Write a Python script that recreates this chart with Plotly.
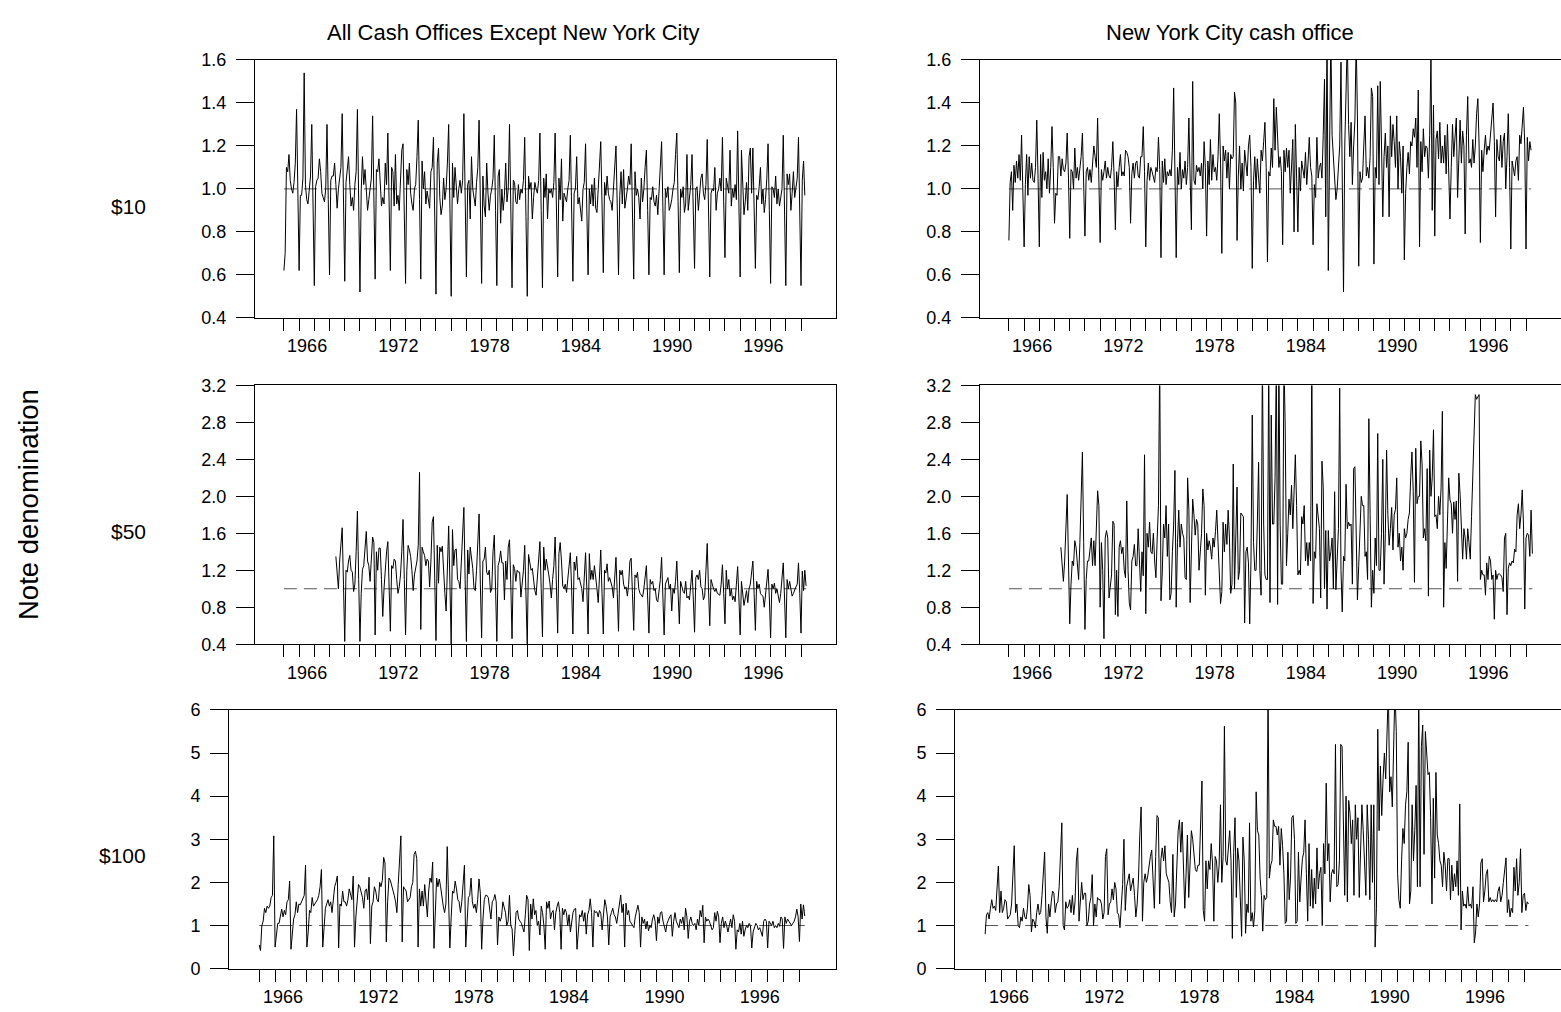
import plotly.graph_objects as go

# ---------------- data (monthly ratios) ----------------
# $10 notes, all cash offices except New York City, Jan 1965 - Apr 1999
ten_other_start = 1965.0
ten_other = [
    0.62, 0.70, 1.10, 1.08, 1.16, 1.04, 1.00, 0.98, 1.03, 1.12, 1.37, 0.99,
    0.62, 0.97, 0.97, 1.05, 1.54, 1.02, 0.95, 0.93, 1.00, 1.06, 1.30, 0.92,
    0.55, 1.01, 1.04, 1.05, 1.14, 1.08, 0.98, 0.96, 0.94, 1.00, 1.30, 0.95,
    0.60, 1.04, 1.06, 1.06, 1.12, 1.02, 0.91, 1.00, 1.05, 1.10, 1.35, 0.96,
    0.57, 1.03, 1.08, 1.15, 1.02, 0.92, 0.96, 0.90, 1.02, 1.08, 1.37, 0.94,
    0.52, 0.99, 1.15, 1.02, 1.09, 1.00, 0.90, 0.95, 1.00, 1.05, 1.34, 0.96,
    0.58, 1.09, 1.08, 1.14, 1.00, 0.92, 0.96, 0.93, 1.12, 1.02, 1.26, 0.90,
    0.62, 1.10, 1.08, 0.92, 1.16, 0.93, 0.97, 0.90, 1.08, 1.18, 1.21, 0.92,
    0.56, 1.09, 1.02, 1.12, 0.98, 0.93, 0.90, 1.00, 1.02, 1.15, 1.32, 0.95,
    0.58, 1.13, 1.00, 1.08, 0.93, 0.99, 0.95, 0.91, 1.08, 1.10, 1.24, 0.90,
    0.51, 1.12, 1.19, 0.96, 0.88, 0.92, 1.05, 0.95, 1.00, 1.12, 1.30, 0.91,
    0.50, 1.12, 0.96, 1.10, 1.02, 0.93, 1.00, 1.04, 0.98, 1.04, 1.35, 0.96,
    0.59, 1.02, 1.04, 0.86, 1.15, 1.00, 0.96, 0.92, 1.03, 1.10, 1.32, 0.94,
    0.56, 1.06, 0.92, 0.87, 1.12, 0.98, 0.90, 0.97, 1.00, 1.05, 1.25, 0.90,
    0.55, 1.06, 1.09, 0.84, 1.00, 0.90, 0.97, 1.12, 0.94, 1.00, 1.30, 0.92,
    0.54, 1.04, 1.03, 0.94, 0.93, 1.02, 0.95, 1.00, 0.98, 1.04, 1.24, 0.87,
    0.50, 1.06, 1.00, 1.03, 0.86, 0.96, 1.03, 1.00, 0.98, 1.04, 1.26, 0.90,
    0.54, 1.05, 0.96, 1.07, 0.86, 1.00, 0.98, 1.00, 0.96, 1.03, 1.26, 0.92,
    0.59, 1.05, 0.95, 1.14, 0.85, 0.98, 0.96, 0.94, 1.00, 1.04, 1.25, 0.91,
    0.57, 0.98, 1.00, 1.15, 0.93, 0.96, 0.91, 0.85, 1.00, 1.03, 1.21, 0.93,
    0.60, 1.00, 0.93, 1.02, 0.92, 1.05, 0.91, 0.89, 1.00, 1.05, 1.22, 0.93,
    0.61, 1.03, 0.97, 1.06, 0.98, 0.95, 0.94, 0.90, 1.02, 1.10, 1.20, 0.92,
    0.60, 0.97, 1.08, 0.93, 1.09, 0.91, 0.95, 1.00, 1.06, 1.02, 1.21, 0.91,
    0.58, 1.08, 0.97, 1.00, 0.96, 0.86, 1.05, 0.94, 1.00, 1.10, 1.18, 0.90,
    0.60, 0.96, 0.95, 1.01, 0.94, 0.92, 0.97, 0.88, 1.02, 1.12, 1.22, 0.92,
    0.60, 1.00, 0.96, 1.01, 0.90, 0.92, 0.95, 1.00, 1.03, 1.16, 1.26, 0.94,
    0.61, 1.00, 0.96, 1.01, 0.89, 0.93, 1.16, 0.90, 0.95, 1.02, 1.16, 0.90,
    0.63, 1.00, 1.01, 0.90, 0.96, 1.05, 1.07, 0.98, 0.95, 1.02, 1.23, 0.93,
    0.59, 0.98, 1.00, 0.99, 1.10, 0.90, 0.98, 1.00, 1.05, 0.99, 1.24, 0.94,
    0.68, 1.05, 1.00, 0.98, 1.18, 0.92, 1.00, 0.96, 1.02, 0.95, 1.27, 0.93,
    0.59, 1.18, 0.98, 0.88, 0.94, 1.03, 0.90, 1.15, 1.19, 0.98, 1.19, 0.92,
    0.63, 0.97, 0.95, 1.01, 1.10, 0.93, 1.00, 0.89, 0.95, 1.05, 1.21, 0.90,
    0.56, 1.01, 1.00, 0.96, 1.06, 0.93, 1.00, 0.92, 0.96, 1.00, 1.25, 0.91,
    0.55, 1.07, 1.02, 1.07, 0.90, 0.98, 1.08, 0.96, 1.00, 1.05, 1.24, 0.92,
    0.55, 1.04, 1.13, 0.97,
]

# $10 notes, New York City cash office
ten_nyc_start = 1965.0
ten_nyc = [
    0.76, 1.03, 1.08, 0.90, 1.11, 1.03, 1.13, 1.05, 1.16, 1.04, 1.25, 1.02,
    0.73, 1.02, 1.16, 0.97, 1.15, 1.05, 1.12, 1.04, 1.03, 1.10, 1.32, 1.05,
    0.73, 1.16, 0.96, 1.17, 1.04, 1.08, 1.00, 1.14, 0.98, 1.10, 1.29, 1.10,
    0.84, 0.98, 0.97, 1.15, 1.15, 1.06, 1.14, 1.09, 1.08, 1.12, 1.26, 1.05,
    0.77, 1.09, 1.08, 1.00, 1.19, 1.05, 1.10, 1.04, 1.09, 1.15, 1.26, 1.03,
    0.78, 1.08, 1.10, 1.04, 1.09, 1.03, 1.10, 1.20, 1.15, 1.10, 1.33, 1.08,
    0.75, 1.09, 1.04, 1.08, 1.13, 1.05, 1.10, 1.06, 1.05, 1.10, 1.22, 1.06,
    0.81, 1.08, 1.01, 1.10, 1.16, 1.06, 1.08, 1.06, 1.18, 1.17, 1.15, 1.10,
    0.84, 1.07, 1.12, 1.05, 1.12, 1.13, 1.06, 1.05, 1.15, 1.15, 1.29, 1.08,
    0.73, 1.04, 1.12, 1.04, 1.10, 1.08, 1.06, 1.03, 1.10, 1.08, 1.24, 1.09,
    0.68, 1.13, 1.03, 1.14, 1.02, 1.08, 1.06, 1.09, 1.06, 1.18, 1.47, 1.05,
    0.68, 1.10, 1.02, 1.17, 1.00, 1.09, 1.05, 1.13, 1.02, 1.10, 1.33, 1.05,
    0.81, 1.50, 1.04, 1.02, 1.11, 1.08, 1.10, 1.06, 1.12, 1.00, 1.22, 1.10,
    0.78, 1.13, 1.02, 1.23, 1.04, 1.16, 1.08, 1.10, 1.04, 1.15, 1.35, 1.12,
    0.70, 1.20, 1.13, 1.18, 1.05, 1.17, 1.00, 1.16, 1.14, 1.15, 1.45, 1.40,
    0.76, 1.06, 1.20, 1.00, 1.12, 0.99, 1.18, 1.12, 1.06, 1.20, 1.25, 1.10,
    0.63, 1.04, 1.15, 1.00, 1.14, 1.05, 0.98, 1.18, 1.13, 1.22, 1.31, 1.10,
    0.66, 1.08, 1.06, 1.19, 1.10, 1.42, 1.18, 1.38, 1.20, 1.10, 1.15, 1.08,
    0.74, 1.18, 1.08, 1.19, 1.10, 1.18, 0.98, 1.14, 1.23, 0.80, 1.30, 1.05,
    0.80, 1.10, 0.99, 1.13, 1.08, 1.05, 1.17, 1.02, 1.12, 1.24, 1.10, 1.06,
    0.74, 1.02, 0.96, 1.24, 1.05, 1.10, 1.12, 1.05, 1.25, 1.51, 0.87, 1.75,
    0.62, 1.20, 1.72, 1.25, 1.15, 1.05, 0.95, 1.00, 1.10, 1.20, 1.59, 1.10,
    0.52, 1.20, 1.40, 1.70, 1.30, 1.15, 1.31, 1.02, 1.20, 1.32, 1.70, 1.33,
    0.64, 1.08, 1.03, 1.05, 1.20, 1.34, 1.06, 1.10, 1.05, 1.15, 1.47, 1.43,
    0.65, 1.10, 1.05, 1.48, 1.02, 1.50, 1.20, 0.87, 1.15, 1.26, 1.10, 1.20,
    0.87, 1.34, 1.15, 1.30, 1.22, 1.10, 1.34, 1.00, 1.22, 1.15, 0.98, 1.20,
    0.67, 0.98, 1.10, 1.17, 1.07, 1.22, 1.20, 1.28, 1.24, 1.33, 1.10, 1.46,
    0.73, 1.22, 1.08, 1.28, 1.15, 1.20, 1.19, 1.05, 1.25, 1.62, 0.90, 1.39,
    0.78, 1.23, 1.27, 1.14, 1.31, 1.12, 1.20, 1.12, 1.25, 1.07, 1.30, 1.10,
    0.86, 1.10, 1.30, 1.15, 1.27, 1.33, 0.96, 1.20, 1.32, 1.12, 1.27, 1.20,
    0.79, 1.25, 1.43, 1.12, 1.14, 1.10, 1.23, 1.12, 1.20, 1.35, 1.42, 1.20,
    0.75, 1.18, 1.08, 1.18, 1.25, 1.16, 1.20, 1.18, 1.25, 1.30, 1.40, 1.22,
    0.87, 1.23, 1.15, 1.13, 1.25, 1.10, 1.22, 1.26, 1.00, 1.15, 1.35, 1.10,
    0.72, 1.13, 1.10, 1.06, 1.13, 1.15, 1.04, 1.25, 1.21, 1.29, 1.38, 1.20,
    0.72, 1.24, 1.13, 1.22, 1.18,
]

# $50 notes, all cash offices except New York City, Jun 1968 - Apr 1999
fifty_other_start = 1968 + 5 / 12
fifty_other = [
    1.35, 1.18, 1.00, 1.30, 1.45, 1.66, 1.05,
    0.43, 1.20, 1.18, 1.30, 1.36, 1.20, 1.18, 0.97, 1.05, 1.40, 1.84, 1.10,
    0.43, 0.95, 1.21, 1.25, 1.40, 1.62, 1.30, 1.25, 1.08, 1.30, 1.56, 1.50,
    0.50, 1.40, 1.20, 1.44, 1.44, 1.10, 0.70, 1.00, 1.25, 1.40, 1.51, 1.05,
    0.54, 1.25, 1.22, 1.32, 1.30, 1.10, 0.95, 1.02, 1.15, 1.40, 1.75, 1.10,
    0.50, 1.20, 1.47, 1.42, 1.35, 1.20, 0.98, 1.15, 1.25, 1.30, 1.47, 2.26,
    0.56, 1.45, 1.40, 1.36, 1.25, 1.32, 1.30, 1.02, 1.30, 1.72, 1.78, 1.10,
    0.44, 1.47, 1.06, 1.45, 1.40, 1.46, 1.10, 0.95, 0.76, 1.20, 1.68, 1.05,
    0.38, 1.64, 1.25, 1.42, 1.43, 1.10, 1.08, 1.00, 1.30, 1.50, 1.88, 1.10,
    0.43, 1.42, 1.16, 1.45, 1.35, 1.22, 1.00, 0.98, 1.20, 1.45, 1.81, 1.05,
    0.47, 1.30, 1.32, 1.45, 1.18, 1.15, 1.20, 0.96, 1.00, 1.40, 1.58, 1.00,
    0.43, 1.25, 1.30, 1.41, 1.28, 1.28, 0.88, 1.30, 1.10, 1.45, 1.53, 1.05,
    0.46, 1.26, 1.22, 1.08, 1.20, 1.18, 1.18, 0.91, 1.05, 1.20, 1.47, 0.90,
    0.38, 1.37, 1.25, 1.20, 1.22, 1.05, 0.98, 0.93, 1.10, 1.30, 1.51, 1.00,
    0.48, 1.45, 1.20, 1.32, 1.20, 1.15, 1.05, 0.90, 1.10, 1.25, 1.56, 1.00,
    0.52, 1.38, 1.50, 1.30, 1.03, 1.00, 1.05, 0.96, 1.10, 1.20, 1.39, 1.00,
    0.51, 1.29, 1.20, 1.35, 1.10, 1.12, 1.05, 1.00, 0.86, 1.10, 1.39, 1.00,
    0.51, 1.38, 1.10, 1.20, 1.10, 1.25, 1.15, 1.00, 0.85, 1.15, 1.42, 0.95,
    0.51, 1.20, 1.17, 1.27, 1.08, 1.12, 1.08, 1.02, 0.90, 1.10, 1.34, 0.95,
    0.54, 1.20, 1.15, 1.20, 1.05, 1.00, 1.02, 0.92, 1.05, 1.30, 1.33, 0.95,
    0.55, 1.15, 1.12, 1.18, 1.00, 0.95, 0.93, 0.91, 1.00, 1.10, 1.25, 0.90,
    0.52, 1.10, 1.05, 1.08, 0.98, 1.00, 0.88, 0.86, 0.97, 1.10, 1.34, 0.92,
    0.50, 1.05, 1.10, 1.12, 1.00, 1.05, 0.76, 1.00, 0.95, 1.08, 1.30, 0.95,
    0.62, 1.08, 1.02, 0.97, 0.95, 1.08, 0.90, 0.92, 0.88, 1.05, 1.20, 0.90,
    0.53, 1.12, 1.15, 1.10, 1.20, 1.02, 1.00, 0.88, 0.92, 1.20, 1.49, 1.00,
    0.60, 1.10, 1.03, 1.00, 0.97, 1.00, 0.95, 0.94, 0.93, 1.05, 1.26, 0.95,
    0.62, 1.20, 1.00, 1.10, 0.92, 1.00, 0.88, 0.92, 0.86, 1.05, 1.24, 0.90,
    0.50, 1.08, 0.95, 0.82, 0.90, 0.98, 0.85, 1.00, 1.05, 1.15, 1.30, 0.95,
    0.55, 1.08, 1.00, 1.05, 0.95, 0.93, 0.92, 0.80, 0.95, 1.10, 1.21, 0.90,
    0.47, 1.05, 1.00, 1.06, 0.95, 1.00, 0.90, 0.85, 0.95, 1.15, 1.28, 0.90,
    0.47, 1.10, 1.00, 1.08, 0.97, 0.92, 0.95, 1.00, 1.02, 1.05, 1.28, 0.95,
    0.52, 1.19, 0.98, 1.20, 1.03,
]

# $50 notes, New York City cash office, Jun 1968 - Jun 1999
fifty_nyc_start = 1968 + 5 / 12
fifty_nyc = [
    1.45, 1.20, 1.08, 1.30, 1.60, 2.02, 1.30,
    0.62, 1.05, 1.30, 1.25, 1.52, 1.45, 1.30, 1.10, 1.50, 1.95, 2.48, 1.50,
    0.56, 1.10, 1.30, 1.30, 1.45, 1.55, 1.25, 1.52, 1.25, 1.60, 2.06, 1.90,
    0.80, 1.50, 1.20, 0.46, 1.55, 1.63, 1.55, 0.90, 1.00, 1.15, 1.73, 1.70,
    0.72, 1.20, 0.70, 1.45, 1.52, 1.38, 1.45, 1.20, 1.12, 1.95, 1.20, 0.85,
    0.77, 1.30, 1.35, 1.48, 1.25, 1.25, 1.65, 1.30, 0.97, 1.40, 1.14, 2.45,
    0.73, 1.60, 1.45, 1.72, 1.40, 1.38, 1.60, 1.30, 1.12, 1.55, 1.90, 3.50,
    0.87, 1.17, 1.70, 1.55, 1.90, 1.35, 1.70, 0.88, 0.95, 1.40, 1.70, 2.28,
    0.80, 1.50, 1.85, 1.45, 1.70, 1.60, 1.55, 1.12, 1.10, 2.20, 1.85, 0.85,
    1.30, 1.97, 1.80, 1.58, 1.75, 1.70, 1.20, 1.40, 1.60, 2.08, 1.90, 0.93,
    1.60, 1.42, 1.52, 1.45, 1.32, 1.55, 1.45, 1.62, 1.85, 1.50, 1.20, 0.84,
    0.97, 1.72, 1.40, 1.70, 1.48, 1.85, 1.55, 0.95, 1.05, 2.35, 1.00, 1.45,
    2.10, 1.10, 1.20, 1.82, 1.80, 1.78, 0.63, 1.40, 1.45, 1.28, 0.62, 1.30,
    2.88, 1.50, 1.20, 1.20, 1.70, 2.37, 1.20, 0.93, 3.50, 1.70, 1.15, 1.10,
    1.10, 3.50, 0.85, 2.88, 1.70, 1.70, 2.20, 3.50, 0.83, 3.50, 1.70, 1.05,
    1.05, 3.50, 2.75, 1.25, 1.60, 1.97, 1.80, 2.12, 1.65, 2.00, 2.45, 1.90,
    1.15, 1.20, 1.15, 1.78, 1.70, 1.90, 1.30, 1.50, 1.25, 1.50, 1.30, 3.50,
    0.84, 1.40, 1.33, 1.92, 1.80, 1.65, 0.90, 2.38, 2.10, 1.00, 1.63, 0.78,
    1.63, 1.30, 1.40, 1.55, 1.00, 2.05, 0.99, 1.40, 1.65, 3.17, 1.20, 0.75,
    1.35, 1.30, 2.13, 1.65, 1.72, 1.68, 1.70, 1.05, 2.30, 2.32, 1.60, 0.88,
    1.25, 1.70, 2.00, 1.90, 1.90, 1.35, 1.40, 1.10, 2.84, 1.80, 0.80, 1.20,
    0.95, 1.55, 1.25, 2.68, 1.20, 1.20, 1.60, 2.40, 1.05, 1.60, 2.50, 1.80,
    1.47, 1.65, 1.88, 1.42, 1.80, 1.86, 2.20, 1.45, 1.60, 1.30, 1.45, 1.20,
    1.65, 1.55, 1.60, 1.75, 1.82, 2.20, 2.48, 2.05, 1.07, 2.52, 1.92, 2.00,
    2.00, 2.60, 2.35, 1.55, 1.65, 1.52, 2.30, 0.92, 2.50, 2.00, 2.20, 2.72,
    1.78, 1.80, 1.65, 2.00, 1.80, 2.10, 2.92, 0.80, 1.50, 1.22, 1.80, 2.20,
    1.96, 1.92, 1.60, 1.94, 1.75, 1.95, 1.08, 2.25, 2.02, 1.60, 1.32, 1.65,
    1.55, 1.32, 1.65, 1.50, 1.32, 1.78, 2.20, 2.62, 3.10, 3.05, 3.08, 3.10,
    1.10, 1.20, 1.15, 1.15, 0.93, 1.28, 1.10, 1.35, 1.30, 1.10, 1.15, 0.67,
    1.20, 1.10, 1.16, 1.16, 1.15, 1.12, 0.97, 1.55, 1.60, 0.72, 1.22, 1.28,
    1.25, 1.30, 1.28, 1.43, 1.40, 1.80, 1.92, 1.65, 1.80, 2.07, 1.70, 0.78,
    1.55, 1.60, 1.58, 1.35, 1.85, 1.38,
]

# $100 notes, all cash offices except New York City, Jan 1965 - May 1999
hundred_other_start = 1965.0
hundred_other = [
    0.55, 0.42, 1.00, 1.10, 1.40, 1.30, 1.45, 1.40, 1.45, 1.65, 1.70, 3.08,
    0.50, 0.80, 1.05, 1.05, 1.25, 1.38, 1.20, 1.35, 1.25, 1.55, 1.60, 2.03,
    0.45, 0.80, 1.15, 1.25, 1.55, 1.30, 1.50, 1.48, 1.55, 1.60, 1.70, 2.40,
    0.50, 0.85, 1.35, 1.30, 1.65, 1.45, 1.50, 1.55, 1.60, 1.70, 1.90, 2.30,
    0.50, 0.95, 1.40, 1.50, 1.60, 1.45, 1.55, 1.30, 1.55, 1.90, 2.00, 2.15,
    0.48, 1.50, 1.45, 1.80, 1.55, 1.55, 1.45, 1.60, 1.85, 1.75, 1.60, 2.15,
    0.50, 1.20, 1.65, 1.95, 1.90, 1.80, 1.65, 1.40, 1.80, 1.85, 1.60, 2.12,
    0.58, 1.45, 1.55, 1.90, 1.80, 1.60, 1.55, 2.00, 1.90, 2.05, 2.58, 2.45,
    0.62, 1.55, 2.10, 2.05, 1.95, 1.85, 1.70, 1.55, 1.30, 1.95, 2.40, 3.08,
    0.62, 1.90, 1.85, 1.80, 1.55, 1.60, 1.65, 1.90, 2.00, 2.65, 2.72, 2.55,
    0.50, 1.85, 1.45, 1.80, 1.45, 1.95, 1.55, 1.20, 1.80, 2.10, 2.00, 2.47,
    0.47, 1.50, 2.10, 1.90, 2.08, 1.90, 1.60, 1.45, 1.30, 1.50, 2.83, 1.60,
    0.48, 1.20, 1.80, 1.75, 2.03, 1.85, 1.60, 1.55, 1.30, 1.55, 2.00, 2.40,
    0.50, 1.05, 1.65, 1.70, 2.10, 1.55, 1.40, 1.50, 1.30, 1.60, 2.08, 1.75,
    0.45, 1.15, 1.60, 1.70, 1.70, 1.65, 1.45, 1.15, 1.55, 1.60, 1.72, 1.55,
    0.55, 1.20, 1.10, 1.20, 1.55, 1.45, 1.30, 1.00, 1.10, 1.70, 1.00, 0.92,
    0.30, 0.80, 1.30, 1.35, 1.15, 1.10, 1.05, 0.95, 0.85, 1.25, 1.70, 1.60,
    0.42, 1.50, 1.15, 1.62, 1.25, 1.35, 1.00, 1.10, 0.78, 1.45, 1.30, 1.00,
    0.45, 1.55, 1.40, 1.57, 1.15, 1.30, 1.35, 0.90, 1.30, 1.45, 1.55, 1.30,
    0.45, 1.40, 1.25, 1.38, 1.30, 1.00, 1.25, 0.85, 1.10, 1.30, 1.38, 1.40,
    0.45, 1.00, 1.25, 1.20, 1.35, 1.10, 1.30, 0.80, 1.25, 1.35, 1.62, 1.30,
    0.50, 1.35, 1.30, 1.32, 1.20, 1.35, 1.28, 0.90, 1.35, 1.60, 1.45, 1.20,
    0.55, 1.20, 1.30, 1.40, 1.25, 1.20, 1.05, 1.30, 1.60, 1.71, 1.30, 1.50,
    0.50, 1.52, 1.25, 1.35, 1.10, 1.05, 1.00, 0.95, 1.20, 1.35, 1.47, 1.30,
    0.50, 1.20, 1.05, 1.15, 0.92, 1.10, 0.88, 1.00, 0.95, 1.15, 1.25, 1.10,
    0.65, 1.20, 1.05, 1.30, 1.32, 1.10, 1.00, 0.85, 1.05, 1.15, 1.20, 1.25,
    0.75, 1.10, 1.30, 1.10, 1.00, 0.95, 1.15, 1.05, 1.20, 0.90, 1.40, 1.20,
    0.70, 1.10, 1.20, 1.05, 1.00, 1.05, 0.90, 1.15, 1.00, 1.35, 1.20, 1.47,
    0.60, 1.20, 1.10, 1.15, 1.10, 1.00, 0.90, 0.95, 1.30, 1.10, 1.33, 1.20,
    0.60, 1.05, 1.20, 0.95, 1.10, 1.00, 0.85, 1.00, 1.15, 0.95, 1.25, 1.10,
    0.45, 0.90, 0.85, 1.05, 0.80, 1.10, 0.75, 0.90, 1.00, 0.95, 1.05, 1.00,
    0.48, 0.85, 0.95, 1.05, 1.00, 0.90, 0.95, 0.85, 0.75, 1.10, 1.15, 1.10,
    0.48, 1.10, 1.05, 1.00, 1.10, 0.95, 1.00, 0.95, 1.05, 0.98, 1.20, 1.15,
    0.47, 1.20, 1.05, 1.15, 1.10, 1.05, 1.00, 1.05, 1.10, 1.20, 1.38, 1.20,
    0.63, 1.50, 1.15, 1.48, 1.22,
]

# $100 notes, New York City cash office, Jan 1965 - Apr 1999
hundred_nyc_start = 1965.0
hundred_nyc = [
    0.80, 1.25, 1.30, 1.15, 1.40, 1.60, 1.40, 1.45, 1.35, 1.80, 2.38, 1.30,
    1.80, 1.30, 1.40, 1.60, 1.55, 1.15, 1.20, 1.25, 1.50, 2.20, 2.85, 1.30,
    1.50, 1.00, 0.95, 1.20, 1.10, 1.40, 1.20, 1.15, 1.40, 1.95, 1.70, 0.85,
    1.15, 1.10, 0.95, 1.30, 1.50, 1.25, 1.30, 1.70, 2.20, 2.70, 1.20, 0.82,
    1.50, 1.20, 1.55, 1.80, 1.75, 1.30, 1.50, 1.55, 1.90, 2.60, 3.38, 1.00,
    0.90, 1.55, 1.40, 1.45, 1.60, 1.30, 1.70, 1.25, 1.55, 2.50, 2.80, 1.10,
    1.50, 2.00, 1.60, 1.75, 1.75, 1.00, 1.10, 1.50, 1.65, 2.18, 1.00, 1.50,
    1.20, 1.65, 1.60, 1.60, 1.50, 1.15, 1.30, 2.60, 2.78, 1.25, 1.50, 1.55,
    1.85, 1.60, 2.00, 1.85, 1.30, 1.25, 0.95, 1.60, 1.95, 3.00, 1.35, 1.90,
    2.10, 2.20, 1.80, 1.95, 2.10, 1.70, 1.20, 1.50, 2.10, 3.10, 3.75, 1.10,
    2.00, 2.20, 2.00, 2.15, 2.40, 2.60, 2.75, 1.90, 1.40, 2.60, 3.55, 3.50,
    1.50, 2.55, 2.80, 2.50, 2.85, 2.20, 2.10, 2.00, 1.55, 1.30, 2.65, 1.20,
    1.50, 2.30, 3.20, 3.45, 2.70, 3.40, 2.40, 1.40, 2.20, 3.10, 1.65, 2.40,
    3.20, 3.00, 2.65, 2.30, 2.25, 2.40, 2.40, 3.30, 4.35, 1.35, 1.10, 2.50,
    1.85, 2.50, 2.30, 2.90, 2.45, 1.10, 2.60, 2.50, 2.00, 2.40, 3.80, 2.00,
    2.60, 5.62, 2.50, 2.40, 2.90, 3.20, 2.50, 0.70, 2.70, 3.50, 1.65, 2.80,
    2.50, 1.80, 0.75, 3.05, 2.50, 0.82, 1.50, 1.30, 3.38, 1.10, 1.30, 0.97,
    1.35, 4.10, 3.20, 3.10, 2.10, 1.70, 0.87, 1.70, 1.60, 1.65, 6.50, 2.10,
    2.40, 2.50, 3.45, 3.30, 3.30, 3.10, 3.30, 2.40, 3.25, 2.85, 2.20, 1.05,
    1.10, 2.70, 1.60, 2.10, 3.50, 3.55, 3.00, 1.05, 1.10, 2.70, 1.55, 2.10,
    2.55, 2.70, 3.45, 2.20, 1.10, 2.90, 1.45, 2.30, 1.40, 2.10, 1.50, 2.80,
    1.85, 2.20, 2.35, 1.00, 2.90, 2.20, 4.30, 2.50, 2.90, 1.55, 2.20, 2.30,
    2.20, 5.20, 1.90, 1.95, 2.50, 5.20, 5.15, 3.40, 1.70, 4.00, 1.55, 3.90,
    3.60, 2.90, 3.45, 1.70, 3.80, 3.00, 3.50, 1.65, 2.90, 3.80, 3.20, 2.60,
    1.70, 3.80, 3.00, 1.60, 3.80, 2.00, 3.80, 0.50, 1.40, 5.55, 3.20, 4.70,
    3.55, 4.40, 5.00, 4.40, 6.50, 6.50, 4.10, 4.45, 3.75, 6.50, 6.50, 5.50,
    2.20, 1.60, 1.40, 2.50, 3.25, 2.90, 3.80, 4.10, 5.25, 1.50, 1.80, 3.80,
    2.50, 3.20, 4.25, 1.90, 6.50, 1.90, 5.15, 5.65, 2.65, 5.50, 5.00, 4.50,
    4.55, 3.50, 1.50, 3.95, 2.10, 4.55, 3.10, 2.90, 2.50, 2.40, 1.90, 2.70,
    2.40, 1.80, 2.55, 2.55, 1.60, 2.40, 1.80, 2.20, 1.90, 2.50, 1.70, 3.82,
    0.90, 1.80, 1.45, 1.50, 1.40, 1.90, 1.45, 1.50, 1.40, 1.90, 0.60, 0.85,
    1.50, 1.20, 1.50, 2.45, 2.55, 1.55, 1.80, 2.20, 2.30, 1.55, 1.65, 1.55,
    1.60, 1.55, 1.60, 1.55, 1.80, 1.90, 1.55, 1.70, 2.00, 2.30, 2.57, 1.30,
    1.60, 1.20, 1.40, 1.30, 2.35, 1.80, 2.55, 1.70, 2.00, 2.78, 1.30, 1.70,
    1.75, 1.35, 1.55, 1.50,
]

# reference level (ratio = 1) and its span
ref_level = 1.0
ref_start = 1965.0

# axis settings
year_ticks = list(range(1965, 2000))
label_years = [1966, 1972, 1978, 1984, 1990, 1996]
x_range = [1963.1, 2001.3]
y_ranges = [[0.4, 1.6], [0.4, 3.2], [0.0, 6.0]]
y_ticks = [
    [0.4, 0.6, 0.8, 1.0, 1.2, 1.4, 1.6],
    [0.4, 0.8, 1.2, 1.6, 2.0, 2.4, 2.8, 3.2],
    [0, 1, 2, 3, 4, 5, 6],
]
y_formats = [".1f", ".1f", "d"]
col_titles = ["All Cash Offices Except New York City", "New York City cash office"]
row_labels = ["$10", "$50", "$100"]
side_label = "Note denomination"

panels = [
    (ten_other_start, ten_other),
    (ten_nyc_start, ten_nyc),
    (fifty_other_start, fifty_other),
    (fifty_nyc_start, fifty_nyc),
    (hundred_other_start, hundred_other),
    (hundred_nyc_start, hundred_nyc),
]

# ---------------- layout geometry (pixels) ----------------
W, H = 1561, 1012
col_px = {  # (left, right) per (row, column)
    (0, 0): (255, 836), (0, 1): (980, 1561),
    (1, 0): (255, 836), (1, 1): (980, 1561),
    (2, 0): (229, 836), (2, 1): (955, 1561),
}
row_px = [(51, 314), (383, 647), (714, 978)]

FONT = "Liberation Sans, Arial, Helvetica, sans-serif"

fig = go.Figure()
layout = dict(
    width=W, height=H,
    margin=dict(l=0, r=0, t=0, b=0),
    paper_bgcolor="white", plot_bgcolor="white",
    showlegend=False,
    font=dict(family=FONT, size=18, color="black"),
)

for k, (start, vals) in enumerate(panels):
    r, c = divmod(k, 2)
    n = k + 1
    xa = "x" if n == 1 else f"x{n}"
    ya = "y" if n == 1 else f"y{n}"
    xs = [start + i / 12 for i in range(len(vals))]

    # dashed reference line at ratio 1
    fig.add_trace(go.Scatter(
        x=[ref_start, xs[-1]], y=[ref_level, ref_level], mode="lines",
        line=dict(color="#555555", width=1, dash="13px,7px"),
        xaxis=xa, yaxis=ya, hoverinfo="skip"))
    fig.add_trace(go.Scatter(
        x=xs, y=vals, mode="lines",
        line=dict(color="black", width=1),
        xaxis=xa, yaxis=ya, hoverinfo="skip"))

    left, right = col_px[(r, c)]
    top, bottom = row_px[r]
    px_per_year = (right - left) / (x_range[1] - x_range[0])
    layout["xaxis" if n == 1 else f"xaxis{n}"] = dict(
        domain=[left / W, right / W], anchor=ya, range=x_range,
        showline=True, linecolor="black", linewidth=1, mirror=True,
        ticks="outside", ticklen=12, tickwidth=1, tickcolor="black",
        tickvals=year_ticks,
        ticktext=[str(y) if y in label_years else "" for y in year_ticks],
        ticklabelshift=int(round(px_per_year / 2)),
        showgrid=False, zeroline=False,
        tickfont=dict(family=FONT, size=18, color="black"),
    )
    layout["yaxis" if n == 1 else f"yaxis{n}"] = dict(
        domain=[1 - bottom / H, 1 - top / H], anchor=xa, range=y_ranges[r],
        showline=True, linecolor="black", linewidth=1,
        mirror=(c == 0),
        ticks="outside", ticklen=18, tickwidth=1, tickcolor="black",
        tickvals=y_ticks[r], tickformat=y_formats[r],
        ticklabelstandoff=6,
        showgrid=False, zeroline=False,
        tickfont=dict(family=FONT, size=18, color="black"),
    )

annotations = []
title_x = [513, 1230]
for c in range(2):
    annotations.append(dict(
        text=col_titles[c], x=title_x[c] / W, y=1 - 23 / H,
        xref="paper", yref="paper", xanchor="center", yanchor="middle",
        showarrow=False, font=dict(family=FONT, size=22, color="black")))
label_y = [200, 532, 863]
for r in range(3):
    annotations.append(dict(
        text=row_labels[r], x=148 / W, y=1 - label_y[r] / H,
        xref="paper", yref="paper", xanchor="right", yanchor="middle",
        showarrow=False, font=dict(family=FONT, size=21, color="black")))
annotations.append(dict(
    text=side_label, x=28 / W, y=1 - 505 / H, textangle=-90,
    xref="paper", yref="paper", xanchor="center", yanchor="middle",
    showarrow=False, font=dict(family=FONT, size=27.5, color="black")))
layout["annotations"] = annotations

fig.update_layout(**layout)
fig.write_html("out.html")
